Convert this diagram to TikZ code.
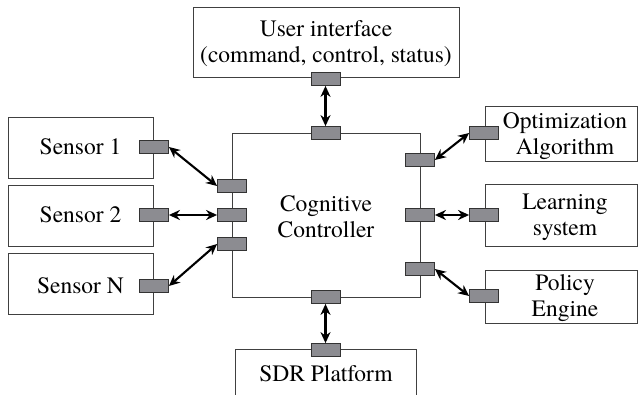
\documentclass[tikz,border=0pt]{standalone}
\usepackage{fontspec}
\newfontfamily\tnrfont{texgyretermes-regular.otf}
\usetikzlibrary{arrows.meta}
\begin{document}
\begin{tikzpicture}[x=1pt,y=-1pt,
  box/.style={draw=black!75, line width=0.9pt, rectangle, inner sep=0pt},
  port/.style={draw=black!80, fill={rgb,255:red,140;green,140;blue,145}, line width=0.8pt, minimum width=29pt, minimum height=13pt, inner sep=0pt},
  lbl/.style={align=center, font=\tnrfont\fontsize{23.5}{26}\selectfont, inner sep=0pt},
  link/.style={line width=2.1pt, {Stealth[length=11pt,width=10pt]}-{Stealth[length=11pt,width=10pt]}}]
\clip (0,0) rectangle (642,395);
% boxes
\node[box, minimum width=266pt, minimum height=70pt] (ui) at (326,42) {};
\node[box, minimum width=188pt, minimum height=164pt] (cc) at (326,215) {};
\node[box, minimum width=145pt, minimum height=61pt] (s1) at (80.5,147.5) {};
\node[box, minimum width=145pt, minimum height=61pt] (s2) at (80.5,215.5) {};
\node[box, minimum width=145pt, minimum height=61pt] (sN) at (80.5,283.5) {};
\node[box, minimum width=152pt, minimum height=55pt] (opt) at (561,133.5) {};
\node[box, minimum width=152pt, minimum height=62pt] (lrn) at (561,215) {};
\node[box, minimum width=152pt, minimum height=53pt] (pol) at (561,296.5) {};
\node[box, minimum width=181pt, minimum height=80pt] (sdr) at (325.5,389) {};
% labels
\node[lbl] (uit) at (326,44) {User interface\\(command, control, status)};
\node[lbl] (cct) at (326,217) {Cognitive\\Controller};
\node[lbl] (s1t) at (80.5,147) {Sensor 1};
\node[lbl] (s2t) at (80.5,215) {Sensor 2};
\node[lbl] (sNt) at (80.5,286) {Sensor N};
\node[lbl] (optt) at (565,136) {Optimization\\Algorithm};
\node[lbl] (lrnt) at (565,217) {Learning\\system};
\node[lbl] (polt) at (565,298) {Policy\\Engine};
\node[lbl] (sdrt) at (326,374) {SDR Platform};
% ports
\node[port] (uip) at (325.5,79) {};
\node[port] (ctop) at (325.5,133) {};
\node[port] (cbot) at (325.5,297) {};
\node[port] (sdrp) at (325.5,350) {};
\node[port] (s1p) at (154,147) {};
\node[port] (s2p) at (154,215) {};
\node[port] (sNp) at (154,286) {};
\node[port] (cl1) at (232,186) {};
\node[port] (cl2) at (232,215) {};
\node[port] (cl3) at (232,244) {};
\node[port] (cr1) at (420,160) {};
\node[port] (cr2) at (420,215) {};
\node[port] (cr3) at (420,269) {};
\node[port] (optp) at (484,133) {};
\node[port] (lrnp) at (484,215) {};
\node[port] (polp) at (484,296) {};
% links
\draw[link] (uip.south) -- (ctop.north);
\draw[link] (cbot.south) -- (sdrp.north);
\draw[link] (s1p.east) -- (cl1.west);
\draw[link] (s2p.east) -- (cl2.west);
\draw[link] (sNp.east) -- (cl3.west);
\draw[link] (cr1.east) -- (optp.west);
\draw[link] (cr2.east) -- (lrnp.west);
\draw[link] (cr3.east) -- (polp.west);
\end{tikzpicture}
\end{document}
